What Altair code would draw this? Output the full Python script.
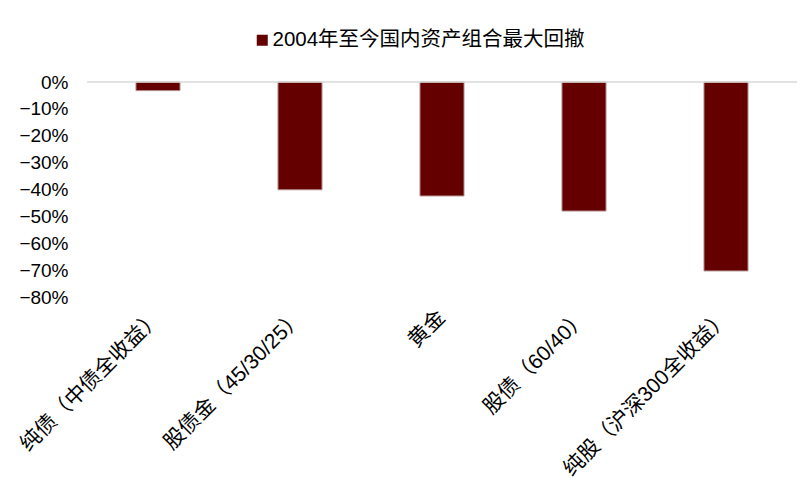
import altair as alt
import pandas as pd

categories = ["纯债（中债全收益）", "股债金（45/30/25）", "黄金", "股债（60/40）", "纯股（沪深300全收益）"]
drawdowns = [-0.032, -0.401, -0.424, -0.480, -0.703]
series_name = "2004年至今国内资产组合最大回撤"
y_ticks = [0, -0.1, -0.2, -0.3, -0.4, -0.5, -0.6, -0.7, -0.8]

df = pd.DataFrame({"cat": categories, "val": drawdowns, "series": [series_name] * len(categories)})

FONT = "Liberation Sans, Arial, Noto Sans CJK SC, sans-serif"

y_axis = alt.Axis(title=None, format=".0%", values=y_ticks, domain=False,
                  ticks=False, grid=False, labelPadding=19, labelFontSize=19,
                  labelColor="#000000", labelFont=FONT, labelOverlap=False)
y_scale = alt.Scale(domain=[-0.8, 0], nice=False, zero=True)

bars = alt.Chart(df).mark_bar(stroke="#b08c8c", strokeWidth=1).encode(
    x=alt.X("cat:N", sort=None,
            scale=alt.Scale(paddingInner=0.69, paddingOuter=0.345),
            axis=alt.Axis(title=None, domain=False, ticks=False, labelAngle=-45,
                          labelAlign="right", labelBaseline="middle", labelPadding=17,
                          labelFontSize=21, labelColor="#000000", labelFont=FONT,
                          labelLimit=400, labelOverlap=False)),
    y=alt.Y("val:Q", scale=y_scale, axis=y_axis),
    color=alt.Color("series:N", scale=alt.Scale(range=["#640000"]),
                    legend=alt.Legend(title=None, orient="none", legendX=165, legendY=-52,
                                      symbolType="square", symbolSize=121, symbolStrokeWidth=0,
                                      labelFontSize=20.5, labelFont=FONT, labelColor="#000000",
                                      labelOffset=0, padding=0, labelLimit=500)),
)

zero_df = pd.DataFrame({"z": [0.0]})
zero_line = alt.Chart(zero_df).mark_rule(color="#d9d9d9", strokeWidth=1.5).encode(
    y=alt.Y("z:Q", scale=y_scale, axis=y_axis)
)

chart = alt.layer(bars, zero_line).properties(
    width=710, height=215,
    autosize=alt.AutoSizeParams(type="none"),
    padding={"left": 79, "top": 74, "right": 3, "bottom": 195},
).configure(font=FONT, background="#ffffff").configure_view(strokeWidth=0, stroke=None)

chart.save("out.html", embed_options={"renderer": "svg", "actions": False})
